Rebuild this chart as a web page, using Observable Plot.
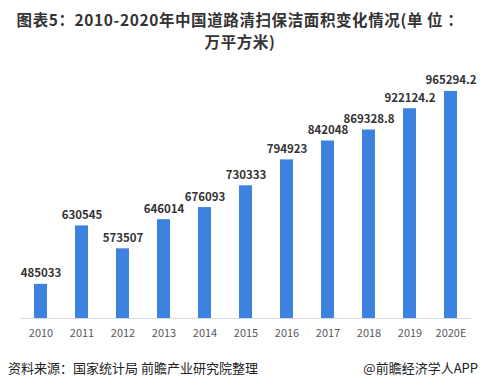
<!DOCTYPE html>
<html>
<head>
<meta charset="utf-8">
<script src="https://cdn.jsdelivr.net/npm/d3@7"></script>
<script src="https://cdn.jsdelivr.net/npm/@observablehq/plot@0.6"></script>
<style>
  html, body { margin: 0; padding: 0; background: #fff; }
  #wrap { position: relative; width: 480px; height: 388px; overflow: hidden;
    font-family: "Noto Sans CJK SC", "Noto Sans", sans-serif; }
  .tl { position: absolute; left: 0; width: 480px; text-align: center; white-space: nowrap;
    font-size: 15.5px; font-weight: bold; line-height: 22px; height: 22px; color: #333; letter-spacing: 0.6px; }
  #t1 { top: 8px; }
  #t2 { top: 30px; }
  #chart { position: absolute; left: 0; top: 56px; }
  .foot { position: absolute; top: 358px; font-size: 13px; line-height: 20px; color: #222; }
  #src { left: 8px; }
  #brand { right: 2px; }
</style>
</head>
<body>
<div id="wrap">
  <div class="tl" id="t1">图表5：2010-2020年中国道路清扫保洁面积变化情况(单 位 ：</div>
  <div class="tl" id="t2">万平方米)</div>
  <div id="chart"></div>
  <div class="foot" id="src">资料来源：国家统计局 前瞻产业研究院整理</div>
  <div class="foot" id="brand">@前瞻经济学人APP</div>
</div>
<script>
const years = ["2010","2011","2012","2013","2014","2015","2016","2017","2018","2019","2020E"];
const values = [485033, 630545, 573507, 646014, 676093, 730333, 794923, 842048, 869328.8, 922124.2, 965294.2];
const labels = ["485033","630545","573507","646014","676093","730333","794923","842048","869328.8","922124.2","965294.2"];
const yBase = 400000;
const yTop = 1000000;

const data = years.map((y, i) => ({year: y, v: values[i], label: labels[i]}));

const chart = Plot.plot({
  width: 480,
  height: 290,
  marginLeft: 20,
  marginRight: 9,
  marginTop: 21,
  marginBottom: 28,
  style: {fontFamily: '"Noto Sans CJK SC", "Noto Sans", sans-serif', background: "transparent"},
  x: {domain: years, paddingInner: 0.68, paddingOuter: 0.34, label: null, tickSize: 0, tickPadding: 11},
  y: {domain: [yBase, yTop], axis: null},
  marks: [
    Plot.barY(data, {x: "year", y1: () => yBase, y2: "v", fill: "#3d82df"}),
    Plot.ruleY([yBase], {stroke: "#d9d9d9", strokeWidth: 1}),
    Plot.text(data, {x: "year", y: "v", text: "label", lineAnchor: "bottom", dy: -7,
      fontSize: 11.5, fontWeight: "bold", fill: "#333"}),
    Plot.axisX({tickSize: 0, tickPadding: 11, fontSize: 11, color: "#595959", label: null})
  ]
});
document.getElementById("chart").appendChild(chart);
</script>
</body>
</html>
